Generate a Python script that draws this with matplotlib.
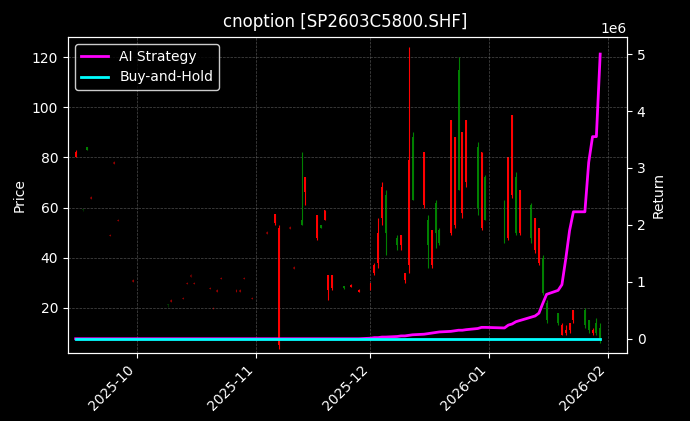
import matplotlib
matplotlib.use("Agg")
import matplotlib.pyplot as plt
import matplotlib.dates as mdates
import numpy as np
import pandas as pd

dates = ["2025-09-15","2025-09-17","2025-09-18","2025-09-19","2025-09-24","2025-09-25","2025-09-26","2025-09-30",
 "2025-10-09","2025-10-10","2025-10-13","2025-10-14","2025-10-15","2025-10-16","2025-10-20","2025-10-21","2025-10-22","2025-10-23",
 "2025-10-27","2025-10-28","2025-10-29","2025-10-31","2025-11-04","2025-11-06","2025-11-07","2025-11-10","2025-11-11","2025-11-13",
 "2025-11-14","2025-11-17","2025-11-18","2025-11-19","2025-11-20","2025-11-21","2025-11-24","2025-11-26","2025-11-28",
 "2025-12-01","2025-12-02","2025-12-03","2025-12-04","2025-12-05","2025-12-08","2025-12-09","2025-12-10","2025-12-11","2025-12-12",
 "2025-12-15","2025-12-16","2025-12-17","2025-12-18","2025-12-19","2025-12-22","2025-12-23","2025-12-24","2025-12-25","2025-12-26",
 "2025-12-29","2025-12-30","2025-12-31","2026-01-05","2026-01-06","2026-01-07","2026-01-08","2026-01-09","2026-01-12","2026-01-13",
 "2026-01-14","2026-01-15","2026-01-16","2026-01-19","2026-01-20","2026-01-21","2026-01-22","2026-01-23","2026-01-26","2026-01-27",
 "2026-01-28","2026-01-29","2026-01-30"]
opens = [82,59,83,64,49,78,55,31,
 21,23,24,30,33,30,28,20,27,32,
 27,27,32,24,50,57.5,52,52,36,53,
 72,57,52,59,33,33,28,29,27,
 30,37,50,68,50,45,49,34,79,63,
 82,45,51,50,46,95,88,67,90,95,
 60,82,55,50,80,97,50,67,48,
 56,52,26,15,14,13,11,14,19,13,11,
 11,10,8]
highs = [83,59.5,84,64.5,49.5,78.5,55.5,31.5,
 21.5,23.5,24.5,30.5,33.5,30.5,28.5,20.5,27.5,32.5,
 27.5,27.5,32.5,24.5,50.5,57.5,53,52.5,36.5,82,
 72,57,53,59,33,33,28.5,29.5,27.5,
 30,38,56,70,67,49,49,34,124,90,
 82,57,51,63,52,95,88,120,90,95,
 86,82,73,63,80,97,74,67,62,
 56,52,41,23,18,14,13,14,19,20,15,
 12,16,14]
lows = [80,58.5,83,63.5,48.5,77.5,54.5,30.5,
 20.5,22.5,23.5,29.5,32.5,29.5,27.5,19.5,26.5,31.5,
 26.5,26.5,31.5,23.5,49.5,53,3.5,51.5,35.5,53,
 61,47,52,55,23,27,27.5,28.5,26.5,
 27,33,36,53,41,43,43,30,34,63,
 60,36,36,44,45,49,52,67,56,68,
 57,51,55,46,47,64,49,49,46,
 42,37,25,14,13,9,9,10,14,12,10,
 9,9,6]
closes = [80,59.5,84,63.5,48.5,77.5,54.5,30.5,
 21.5,22.5,23.5,29.5,32.5,29.5,27.5,19.5,26.5,31.5,
 26.5,26.5,31.5,23.5,49.5,54,5,51.5,35.5,55,
 66,48,53,55,27,28,28.5,28.5,26.5,
 28,34,38,56,65,48,45,31,37,88,
 61,55,37,62,51,50,53,115,58,70,
 84,52,72,62,48,65,72,50,61,
 43,38,40,22,18,9,10,11,15,19,15,
 10,14,12]
dim = [0,1,0,1,1,1,1,1, 1,1,1,1,1,1,1,1,1,1, 1,1,1,1,1,0,0,1,1,0] + [0]*52
strategy = [0]*37 + [0.01,0.02,0.02,0.03,0.03,0.04,0.05,0.05,0.06,0.07,
 0.08,0.09,0.10,0.11,0.12,0.13,0.14,0.15,0.15,0.16,
 0.18,0.20,0.20,0.19,0.24,0.26,0.30,0.32,0.38,0.40,
 0.45,0.62,0.78,0.85,0.95,1.40,1.90,2.23,2.23,3.10,
 3.55,3.55,5.00]
buyhold = [0.0]*len(dates)

d = pd.to_datetime(dates)
x = mdates.date2num(d)
o, h, l, c = map(np.array, (opens, highs, lows, closes))
strategy = np.array(strategy) * 1e6

plt.rcParams['font.family'] = ['DejaVu Sans']
fig = plt.figure(figsize=(6.9, 4.21), dpi=100, facecolor='black')
ax = fig.add_axes([68/690, 1-353/421, (627-68)/690, (353-37)/421])
ax.set_facecolor('black')
for i in range(len(x)):
    col = 'green' if c[i] >= o[i] else 'red'
    a = 0.35 if dim[i] else 1.0
    ax.vlines(x[i], l[i], h[i], color=col, lw=0.8, alpha=a)
    ax.bar(x[i], max(abs(c[i]-o[i]), 0.6), bottom=min(o[i], c[i]), width=0.5, color=col, alpha=a, linewidth=0)
ax.set_ylim(2, 128)
ax.set_xlim(mdates.date2num(pd.Timestamp("2025-09-13")), mdates.date2num(pd.Timestamp("2026-02-06")))
ax.set_ylabel("Price", color='white')
ax.xaxis.set_major_locator(mdates.MonthLocator())
ax.xaxis.set_major_formatter(mdates.DateFormatter("%Y-%m"))
plt.setp(ax.get_xticklabels(), rotation=45, ha='right')
ax.grid(True, color='gray', ls='--', lw=0.5, alpha=0.6)

ax2 = ax.twinx()
l1, = ax2.plot(x, strategy, color='magenta', lw=2, label='AI Strategy')
l2, = ax2.plot(x, buyhold, color='cyan', lw=2, label='Buy-and-Hold')
ax2.set_ylim(-0.25e6, 5.3e6)
ax2.set_ylabel("Return", color='white')
for a_ in (ax, ax2):
    a_.tick_params(colors='white')
    for s in a_.spines.values():
        s.set_color('white')
ax2.yaxis.get_offset_text().set_color('white')
leg = ax2.legend(handles=[l1, l2], loc='upper left', facecolor='black', edgecolor='white', labelcolor='white')
fig.suptitle("cnoption [SP2603C5800.SHF]", color='white', y=0.97, fontsize=12)
fig.savefig("out.png", facecolor='black')
